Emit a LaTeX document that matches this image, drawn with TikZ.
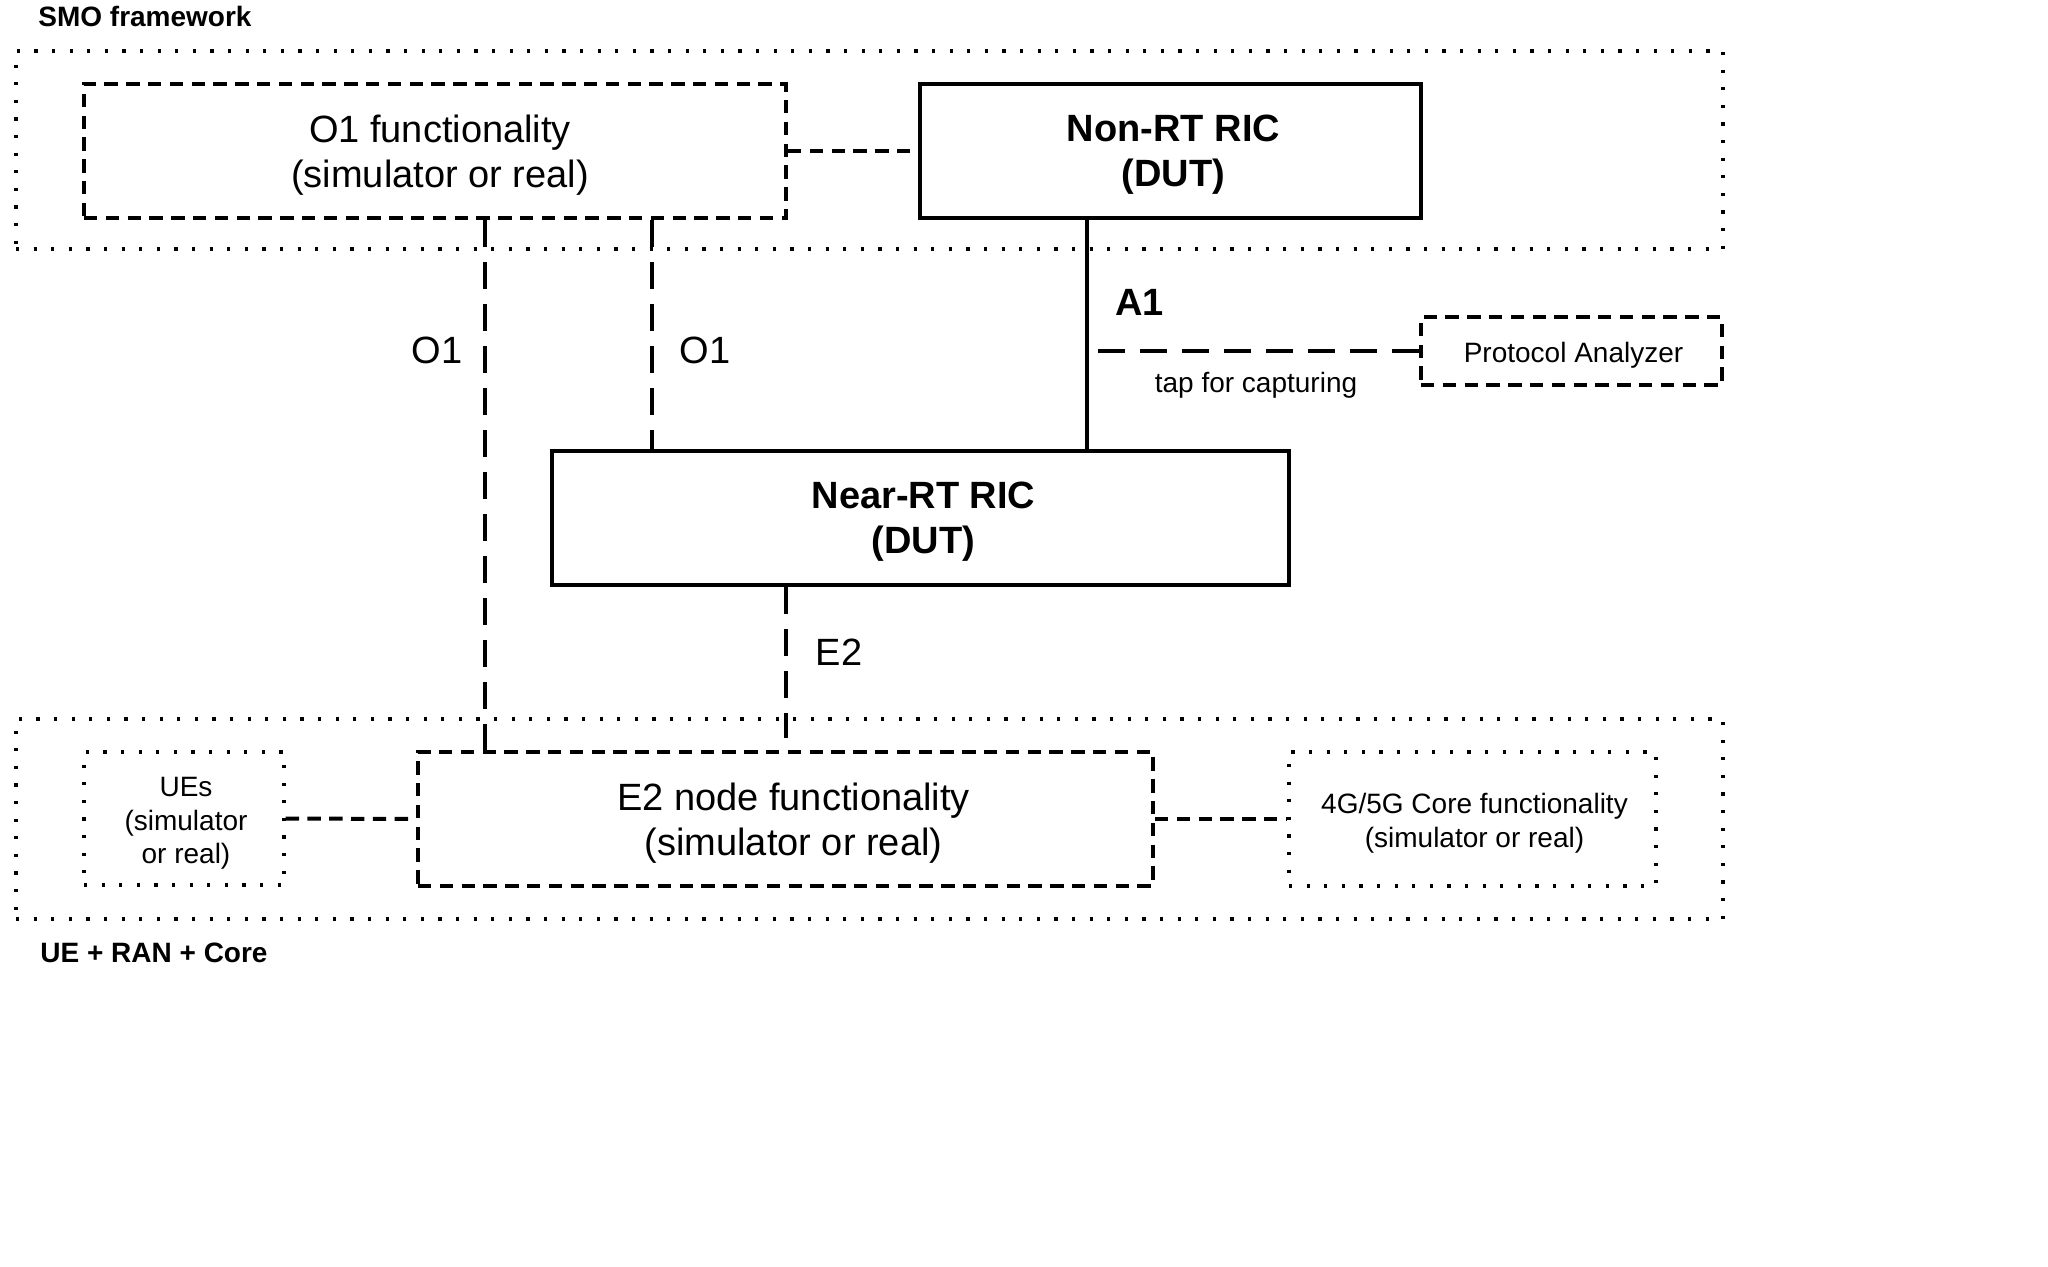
\documentclass[tikz,border=0pt]{standalone}
\usepackage{fontspec}
\setmainfont{Liberation Sans}
\newcommand\myBig{\fontsize{19}{22.5}\selectfont}
\newcommand\mySmall{\fontsize{14}{17}\selectfont}
\begin{document}
\begin{tikzpicture}[x=0.5pt,y=-0.5pt,
  solidbox/.style={draw, line width=2pt, inner sep=0pt},
  dashbox/.style={draw, line width=2pt, dash pattern=on 6.7pt off 4.2pt, inner sep=0pt},
  dotbox/.style={draw, line width=1.6pt, dash pattern=on 1.6pt off 7.2pt, inner sep=0pt},
  boxtext/.style={inner sep=0pt, align=center, yshift=-2pt},
  longdash/.style={line width=1.6pt, dash pattern=on 13.5pt off 7.5pt},
  shortdash/.style={line width=2pt, dash pattern=on 6.7pt off 4.2pt},
  solidline/.style={line width=1.8pt},
  lbl/.style={inner sep=0pt, font=\myBig},
  smalllbl/.style={inner sep=0pt, font=\mySmall},
  grouplbl/.style={inner sep=0pt, font=\mySmall\bfseries, anchor=base west}
]
\useasboundingbox (0,0) rectangle (2048,1267);

% containers
\node[dotbox, minimum width=853.5pt, minimum height=99pt] (smo) at (869.5,150) {};
\node[dotbox, minimum width=853.5pt, minimum height=100pt] (ran) at (869.5,819) {};
\node[grouplbl] (smolbl) at (38,27) {SMO framework};
\node[grouplbl] (ranlbl) at (40,962) {UE + RAN + Core};

% boxes
\node[dashbox, minimum width=351pt, minimum height=67pt] (o1) at (435,151) {};
\node[boxtext, font=\myBig, xshift=2.5pt] (o1t) at (o1.center) {O1 functionality\\(simulator or real)};
\node[solidbox, minimum width=250.5pt, minimum height=67pt] (nonrt) at (1170.5,151) {};
\node[boxtext, font=\myBig\bfseries, xshift=1.5pt] (nonrtt) at (nonrt.center) {Non-RT RIC\\(DUT)};
\node[solidbox, minimum width=368.5pt, minimum height=67pt] (nearrt) at (920.5,518) {};
\node[boxtext, font=\myBig\bfseries, xshift=1.5pt] (nearrtt) at (nearrt.center) {Near-RT RIC\\(DUT)};
\node[dashbox, minimum width=367.5pt, minimum height=67pt] (e2n) at (785.5,819) {};
\node[boxtext, font=\myBig, xshift=4pt] (e2nt) at (e2n.center) {E2 node functionality\\(simulator or real)};
\node[dotbox, minimum width=100pt, minimum height=66.5pt] (ues) at (184,818.5) {};
\node[boxtext, font=\fontsize{14}{16.75}\selectfont, xshift=1pt, yshift=-0.5pt] (uest) at (ues.center) {UEs\\(simulator\\or real)};
\node[dotbox, minimum width=183.5pt, minimum height=67pt] (core) at (1472.5,819) {};
\node[boxtext, font=\mySmall, xshift=1pt] (coret) at (core.center) {4G/5G Core functionality\\(simulator or real)};
\node[dashbox, minimum width=150.5pt, minimum height=34pt] (pa) at (1571.5,351) {};
\node[boxtext, font=\mySmall, xshift=1pt] (pat) at (pa.center) {Protocol Analyzer};

% connectors
\draw[shortdash] (o1.east) -- (nonrt.west);
\draw[longdash] (485,0 |- o1.south) -- (485,0 |- e2n.north);
\draw[longdash] (652,0 |- o1.south) -- (652,0 |- nearrt.north);
\draw[solidline] (1087,0 |- nonrt.south) -- (1087,0 |- nearrt.north);
\coordinate (tapstart) at (1098,351);
\draw[longdash] (tapstart) -- (pa.west);
\coordinate (e2end) at (786,738);
\draw[longdash] (786,0 |- nearrt.south) -- (e2end);
\draw[shortdash] (ues.east) -- (e2n.west);
\draw[shortdash] (e2n.east) -- (core.west);

% labels
\node[lbl, anchor=base] (o1a) at (437,364) {O1};
\node[lbl, anchor=base] (o1b) at (705,364) {O1};
\node[lbl, anchor=base west, font=\myBig\bfseries] (a1) at (1115,315) {A1};
\node[lbl, anchor=base] (e2lbl) at (839,665) {E2};
\node[smalllbl, anchor=base] (tap) at (1256,393) {tap for capturing};
\end{tikzpicture}
\end{document}
